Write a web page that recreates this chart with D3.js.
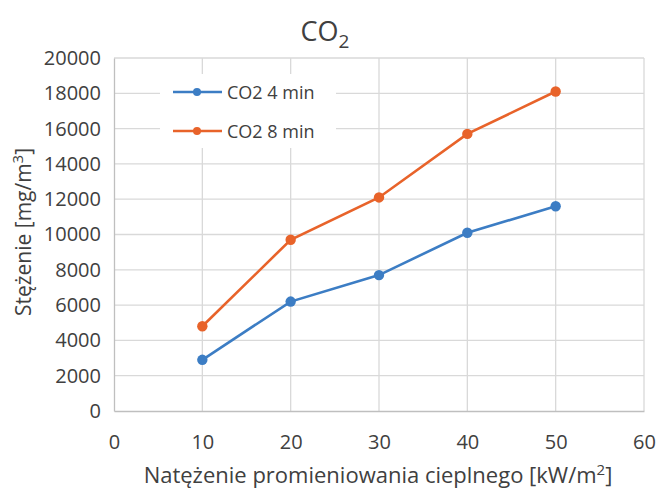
<!DOCTYPE html>
<html>
<head>
<meta charset="utf-8">
<script src="https://cdn.jsdelivr.net/npm/d3@7"></script>
<style>
  html, body { margin: 0; padding: 0; background: #fff; }
  svg text { font-family: "Open Sans", "Liberation Sans", sans-serif; fill: #404040; }
</style>
</head>
<body>
<svg id="chart" width="659" height="491"></svg>
<script>
// Heat flux levels [kW/m2]
const flux = [10, 20, 30, 40, 50];
// CO2 concentration [mg/m3] after 4 and 8 minutes
const co2_4min = [2900, 6200, 7700, 10100, 11600];
const co2_8min = [4800, 9700, 12100, 15700, 18100];
const seriesNames = ["CO2 4 min", "CO2 8 min"];
const seriesColors = ["#3C7DC4", "#E8632A"];
const xTicks = [0, 10, 20, 30, 40, 50, 60];
const yTicks = [0, 2000, 4000, 6000, 8000, 10000, 12000, 14000, 16000, 18000, 20000];

const series = [co2_4min, co2_8min].map((vals, i) => ({
  name: seriesNames[i],
  color: seriesColors[i],
  points: flux.map((f, j) => ({ x: f, y: vals[j] }))
}));

const svg = d3.select("#chart");
const m = { left: 114, right: 644, top: 58, bottom: 411 };

const x = d3.scaleLinear().domain([0, 60]).range([m.left, m.right]);
const y = d3.scaleLinear().domain([0, 20000]).range([m.bottom, m.top]);

// Gridlines
const grid = svg.append("g");
grid.selectAll("line.v").data(xTicks.slice(1)).join("line")
  .attr("x1", d => x(d)).attr("x2", d => x(d))
  .attr("y1", m.top).attr("y2", m.bottom)
  .attr("stroke", "#d9d9d9").attr("stroke-width", 1.3);
grid.selectAll("line.h").data(yTicks.slice(1)).join("line")
  .attr("x1", m.left).attr("x2", m.right)
  .attr("y1", d => y(d)).attr("y2", d => y(d))
  .attr("stroke", "#d9d9d9").attr("stroke-width", 1.3);

// Axes
const xAxis = svg.append("g").attr("transform", `translate(0,${m.bottom})`)
  .call(d3.axisBottom(x).tickValues(xTicks).tickFormat(d3.format("d")).tickSize(0).tickPadding(24));
const yAxis = svg.append("g").attr("transform", `translate(${m.left},0)`)
  .call(d3.axisLeft(y).tickValues(yTicks).tickFormat(d3.format("d")).tickSize(0).tickPadding(13));
[xAxis, yAxis].forEach(a => {
  a.select(".domain").attr("stroke", "#bfbfbf").attr("stroke-width", 1.3);
  a.selectAll("text").style("font-size", "20px").attr("fill", "#404040");
});

// Lines and markers
const line = d3.line().x(d => x(d.x)).y(d => y(d.y));
series.forEach(s => {
  svg.append("path").datum(s.points)
    .attr("d", line).attr("fill", "none")
    .attr("stroke", s.color).attr("stroke-width", 2.6);
  svg.append("g").selectAll("circle").data(s.points).join("circle")
    .attr("cx", d => x(d.x)).attr("cy", d => y(d.y)).attr("r", 5.2)
    .attr("fill", s.color);
});

// Legend
const legend = svg.append("g");
legend.append("rect").attr("x", 160).attr("y", 74).attr("width", 176).attr("height", 74).attr("fill", "#fff");
series.forEach((s, i) => {
  const ly = 92 + i * 39;
  legend.append("line").attr("x1", 173).attr("x2", 222).attr("y1", ly).attr("y2", ly)
    .attr("stroke", s.color).attr("stroke-width", 2.6);
  legend.append("circle").attr("cx", 197).attr("cy", ly).attr("r", 4).attr("fill", s.color);
  legend.append("text").attr("x", 227).attr("y", ly + 6.5)
    .style("font-size", "18px").text(s.name);
});

// Title
const title = svg.append("text").attr("x", 325).attr("y", 41).attr("text-anchor", "middle")
  .style("font-size", "27px");
title.append("tspan").text("CO");
title.append("tspan").attr("dy", 7).style("font-size", "19px").text("2");

// Axis titles
const xt = svg.append("text").attr("x", 378).attr("y", 483).attr("text-anchor", "middle")
  .style("font-size", "22px");
xt.append("tspan").text("Natężenie promieniowania cieplnego [kW/m");
xt.append("tspan").attr("dy", -8).style("font-size", "15px").text("2");
xt.append("tspan").attr("dy", 8).text("]");

const yt = svg.append("text").attr("transform", "translate(31,232) rotate(-90)")
  .attr("text-anchor", "middle").style("font-size", "21px");
yt.append("tspan").text("Stężenie [mg/m");
yt.append("tspan").attr("dy", -8).style("font-size", "15px").text("3");
yt.append("tspan").attr("dy", 8).text("]");
</script>
</body>
</html>
